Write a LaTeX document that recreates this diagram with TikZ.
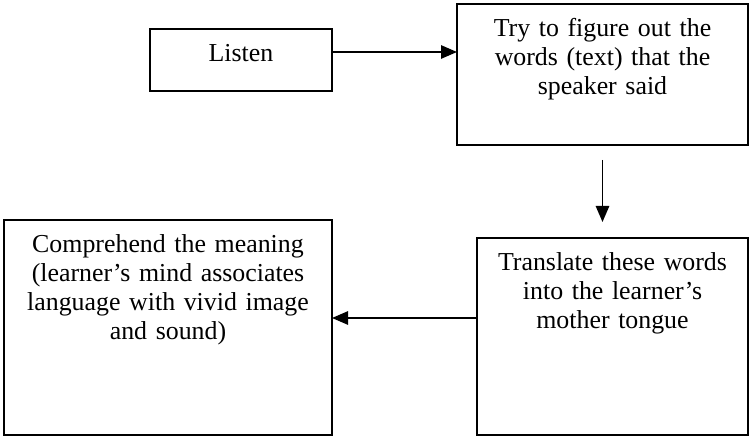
\documentclass[tikz,border=0pt]{standalone}
\usepackage{fontspec}
\setmainfont{Liberation Serif}
\usetikzlibrary{arrows.meta, positioning}
\tikzset{
    stage/.style={rectangle, draw=black, line width=1.6pt, inner sep=0pt, outer sep=0pt, align=center, text height=24.75pt, font=\fontsize{19.4}{21.75}\selectfont},
    arrow/.style={-{Triangle[length=12pt, width=10pt]}, line width=1.3pt},
}

\begin{document}
\begin{tikzpicture}
        % Nodes
        \node[stage, text width=136.5pt, text depth=21.75pt] (listen) {Listen};
        \node[stage, text width=218.25pt, text depth=81pt, right=93.75pt of listen, yshift=-10.875pt] (figure) {Try to figure out the\\words (text) that the\\speaker said};
        \node[stage, text width=203.25pt, text depth=123pt, below left=69.75pt and 0pt of figure.south east] (translate) {Translate these words\\into the learner’s\\mother tongue};
        \node[stage, text width=246pt, text depth=136.5pt, above left=0pt and 108.75pt of translate.south west] (comprehend) {Comprehend the meaning\\(learner’s mind associates\\language with vivid image\\and sound)};

        % Arrows
        \draw[arrow] ([yshift=6pt]listen.east) -- ([yshift=6pt]listen.east -| figure.west);
        \draw[arrow] ([yshift=-11.25pt]figure.south) -- ([yshift=12pt]figure.south |- translate.north);
        \draw[arrow] ([yshift=13.875pt]translate.west) -- ([yshift=13.875pt]translate.west -| comprehend.east);

        \useasboundingbox ([xshift=-112.5pt, yshift=21.75pt]listen.north west) rectangle ([xshift=3.75pt, yshift=-2.25pt]translate.south east);
    \end{tikzpicture}
\end{document}
